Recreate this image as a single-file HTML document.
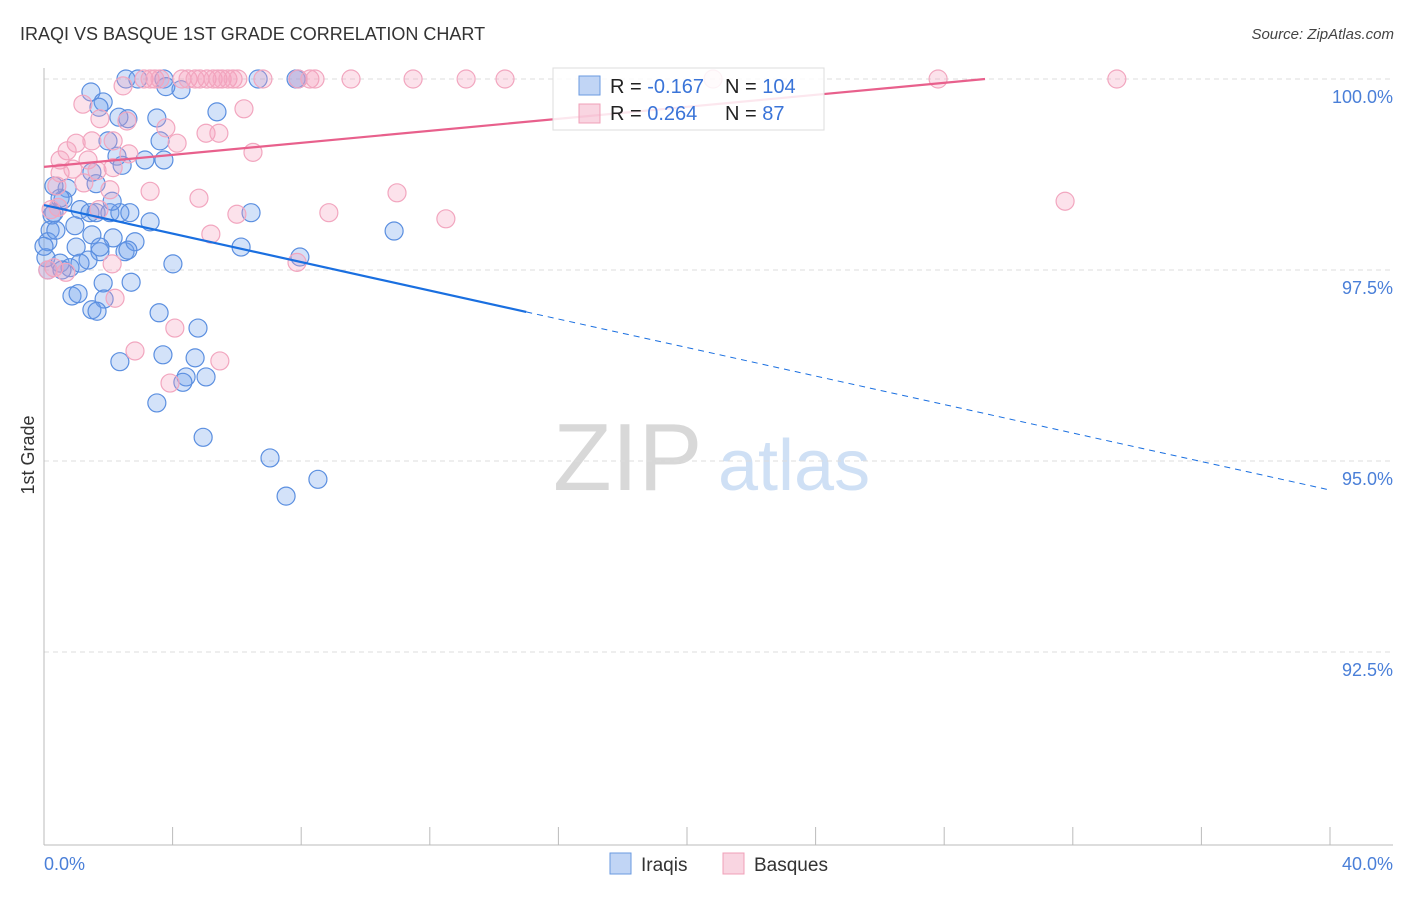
<!DOCTYPE html>
<html><head><meta charset="utf-8"><style>
body{margin:0;background:#fff;font-family:"Liberation Sans",sans-serif;}
svg text{font-family:"Liberation Sans",sans-serif;}
</style></head><body>
<svg id="chart" width="1406" height="892" xmlns="http://www.w3.org/2000/svg">
<text x="20" y="40" font-size="18" fill="#333">IRAQI VS BASQUE 1ST GRADE CORRELATION CHART</text>
<text x="1394" y="39" font-size="15" fill="#444" font-style="italic" text-anchor="end">Source: ZipAtlas.com</text>
<g>
<text x="553" y="490" font-size="96" fill="#d8d8d8" font-family="Liberation Serif,serif">ZIP</text>
<text x="718" y="490" font-size="72" fill="#cfe0f5">atlas</text>
</g>
<g id="grid"></g><g id="axes"></g><g id="pts"></g><g id="lines"></g>
<text transform="translate(34,455) rotate(-90)" font-size="18" fill="#333" text-anchor="middle">1st Grade</text>
<text x="44" y="870" font-size="18" fill="#4a7fd8">0.0%</text>
<text x="1393" y="870" font-size="18" fill="#4a7fd8" text-anchor="end">40.0%</text>
<g>
<rect x="553" y="68" width="271" height="62" fill="rgba(255,255,255,0.85)" stroke="#ddd"/>
<rect x="579" y="76" width="21" height="19" fill="rgba(100,150,230,0.4)" stroke="#6a9ae0"/>
<rect x="579" y="104" width="21" height="19" fill="rgba(240,150,180,0.4)" stroke="#f0a0b8"/>
<text x="610" y="93" font-size="20" fill="#222">R = <tspan fill="#3a74d8">-0.167</tspan></text>
<text x="725" y="93" font-size="20" fill="#222">N = <tspan fill="#3a74d8">104</tspan></text>
<text x="610" y="120" font-size="20" fill="#222">R = <tspan fill="#3a74d8"> 0.264</tspan></text>
<text x="725" y="120" font-size="20" fill="#222">N = <tspan fill="#3a74d8">  87</tspan></text>
</g>
<g>
<rect x="610" y="853" width="21" height="21" fill="rgba(100,150,230,0.4)" stroke="#6a9ae0"/>
<text x="641" y="871" font-size="19" fill="#333">Iraqis</text>
<rect x="723" y="853" width="21" height="21" fill="rgba(240,150,180,0.4)" stroke="#f0a0b8"/>
<text x="754" y="871" font-size="19" fill="#333">Basques</text>
</g>
</svg>
<script>
const yTicks=[100,97.5,95,92.5];
const yTickLabels=["100.0%","97.5%","95.0%","92.5%"];
const xTicks=[4,8,12,16,20,24,28,32,36,40];
const iraqiX=[2.55,2.92,3.73,6.66,7.84,7.90,1.46,1.84,4.26,3.79,1.71,5.38,2.61,3.51,2.33,1.99,3.61,2.27,3.14,3.73,2.43,0.72,1.49,0.59,0.31,0.50,1.12,1.43,1.62,2.05,2.36,2.67,3.30,6.44,10.89,0.19,0.96,0.12,1.00,1.74,2.52,2.83,2.15,1.49,6.13,7.96,0.06,0.50,0.81,1.37,1.12,4.01,1.84,2.71,0.87,1.06,1.87,1.49,1.65,3.58,4.79,2.36,3.70,4.70,4.42,4.32,5.04,3.51,4.95,7.03,8.52,7.53,0.25,0.37,0.0,0.12,0.56,2.12,1.62,1.74,2.61,0.31];
const iraqiY=[100,100,100,100,100,100,99.83,99.70,99.86,99.90,99.63,99.57,99.48,99.49,99.50,99.19,99.19,98.99,98.94,98.94,98.87,98.57,98.78,98.42,98.25,98.44,98.29,98.25,98.25,98.25,98.25,98.25,98.13,98.25,98.01,98.02,98.08,97.87,97.80,97.74,97.74,97.87,97.92,97.96,97.80,97.67,97.66,97.59,97.53,97.63,97.59,97.58,97.33,97.34,97.16,97.19,97.12,96.98,96.96,96.94,96.74,96.30,96.39,96.35,96.10,96.03,96.10,95.76,95.31,95.04,94.76,94.54,98.22,98.02,97.81,97.50,97.50,98.40,98.63,97.80,97.76,98.60];
const basqueX=[3.11,3.30,3.45,3.61,4.29,4.48,4.70,4.85,5.07,5.26,5.41,5.54,5.72,5.88,6.03,6.81,7.90,8.27,8.43,9.55,11.48,13.13,14.34,20.81,27.81,33.37,2.46,1.21,2.58,3.79,1.74,5.04,5.44,6.22,4.14,1.00,0.72,1.49,2.15,2.64,6.50,0.50,1.37,1.65,0.50,0.90,2.15,0.40,1.24,2.05,3.30,4.82,10.98,0.22,0.44,1.71,6.00,8.86,12.50,31.76,5.19,0.31,2.12,7.87,2.21,0.12,4.07,2.83,5.47,3.92,0.68];
const basqueY=[100,100,100,100,100,100,100,100,100,100,100,100,100,100,100,100,100,100,100,100,100,100,100,100,100,100,99.91,99.67,99.45,99.36,99.48,99.29,99.29,99.61,99.16,99.16,99.06,99.19,99.19,99.02,99.04,98.94,98.94,98.80,98.77,98.82,98.84,98.60,98.64,98.55,98.53,98.44,98.51,98.29,98.32,98.29,98.23,98.25,98.17,98.40,97.97,97.53,97.58,97.60,97.13,97.50,96.74,96.44,96.31,96.02,97.47];
const iraqiTrend=[98.35,94.62];
const basqueTrend=[98.85,100];
const basqueTrendEndX=29.27;
const iraqiSolidEndX=15;

const NS="http://www.w3.org/2000/svg";
const sx=v=>44+v/40*1286;
const sy=v=>79+(100-v)/2.5*191;
function mk(tag,attrs,parent){const e=document.createElementNS(NS,tag);for(const k in attrs)e.setAttribute(k,attrs[k]);parent.appendChild(e);return e;}
const grid=document.getElementById('grid'),axes=document.getElementById('axes'),pts=document.getElementById('pts'),lines=document.getElementById('lines');
yTicks.forEach((t,i)=>{
 const l=mk('line',{x1:44,x2:1393,y1:sy(t),y2:sy(t),stroke:'#ddd','stroke-dasharray':'5,4'},grid);
 
 
 const tx=mk('text',{x:1393,y:sy(t)+24,'font-size':18,fill:'#4a7fd8','text-anchor':'end'},grid);
 tx.textContent=yTickLabels[i];
 
 
});
let a=mk('line',{x1:44,x2:44,y1:68,y2:845,stroke:'#bbb'},axes);


a=mk('line',{x1:44,x2:1393,y1:845,y2:845,stroke:'#bbb'},axes);


xTicks.forEach(t=>{
 const l=mk('line',{x1:sx(t),x2:sx(t),y1:827,y2:845,stroke:'#bbb'},axes);
 
 
});
iraqiX.forEach((x,i)=>{
 const c=mk('circle',{cx:sx(x),cy:sy(iraqiY[i]),r:9,fill:'rgba(110,160,235,0.3)',stroke:'#5b8fe0','stroke-width':1.2},pts);
 
 
});
basqueX.forEach((x,i)=>{
 const c=mk('circle',{cx:sx(x),cy:sy(basqueY[i]),r:9,fill:'rgba(245,160,190,0.3)',stroke:'#f2a6bf','stroke-width':1.2},pts);
 
 
});
const iy=x=>iraqiTrend[0]+(iraqiTrend[1]-iraqiTrend[0])*x/40;
let l=mk('line',{x1:sx(0),y1:sy(iy(0)),x2:sx(iraqiSolidEndX),y2:sy(iy(iraqiSolidEndX)),stroke:'#1a6fe0','stroke-width':2.2},lines);


l=mk('line',{x1:sx(iraqiSolidEndX),y1:sy(iy(iraqiSolidEndX)),x2:sx(40),y2:sy(iy(40)),stroke:'#1a6fe0','stroke-width':1,'stroke-dasharray':'6,5'},lines);


l=mk('line',{x1:sx(0),y1:sy(basqueTrend[0]),x2:sx(basqueTrendEndX),y2:sy(basqueTrend[1]),stroke:'#e8608c','stroke-width':2.2},lines);


</script>
</body></html>
